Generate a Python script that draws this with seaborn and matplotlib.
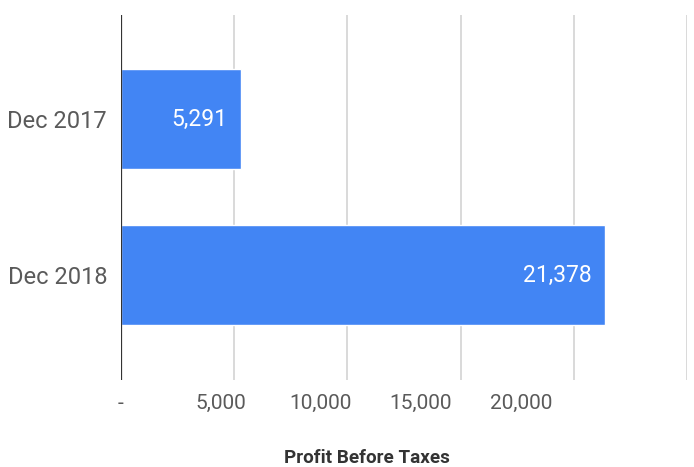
import matplotlib
matplotlib.use("Agg")
import matplotlib.pyplot as plt
import seaborn as sns
import pandas as pd

periods = ["Dec 2017", "Dec 2018"]
profit = [5291, 21378]
grid_ticks = [0, 5000, 10000, 15000, 20000, 25000]
label_ticks = [0, 5000, 10000, 15000, 20000]
label_text = ["-", "5,000", "10,000", "15,000", "20,000"]

sns.set_theme(style="white")
plt.rcParams["font.family"] = ["Roboto", "DejaVu Sans"]

df = pd.DataFrame({"period": periods, "profit": profit})

fig = plt.figure(figsize=(6.94, 4.67), dpi=100)
ax = fig.add_axes([121 / 694, 1 - 380 / 467, (687 - 121) / 694, (380 - 15) / 467])

sns.barplot(data=df, x="profit", y="period", orient="h", color="#4285F4",
            saturation=1, width=0.64, ax=ax, zorder=3)

ax.set_xlim(0, 25000)
ax.set_ylim(1.673, -0.667)
ax.set_xticks(grid_ticks)
ax.set_xticklabels([])
ax.xaxis.grid(True, color="#d0d0d0", linewidth=1.1, zorder=0)
ax.set_axisbelow(True)
ax.axvline(0, color="#333333", linewidth=1.6, zorder=4)
for s in ax.spines.values():
    s.set_visible(False)
ax.tick_params(axis="both", length=0, labelcolor="#5a5a5a")
ax.tick_params(axis="y", pad=10, labelsize=17)
ax.set_xlabel("")
ax.set_ylabel("")

# value labels along the bottom use a slightly compressed scale
k = 0.883
sec = ax.secondary_xaxis("bottom", functions=(lambda x: x / k, lambda x: x * k))
sec.set_xticks(label_ticks)
sec.set_xticklabels(label_text)
sec.tick_params(length=0, labelsize=15, labelcolor="#5a5a5a", pad=10)
sec.spines["bottom"].set_visible(False)

for container in ax.containers:
    texts = ax.bar_label(container, labels=[f"{v:,}" for v in profit],
                         label_type="edge", padding=-9.5, color="white",
                         fontsize=16.5)
    for t in texts:
        t.set_ha("right")

fig.text(367 / 694, 1 - 458 / 467, "Profit Before Taxes", ha="center", va="center",
         fontsize=13.6, fontweight="bold", color="#333333")

fig.savefig("out.png", dpi=100, facecolor="white")
